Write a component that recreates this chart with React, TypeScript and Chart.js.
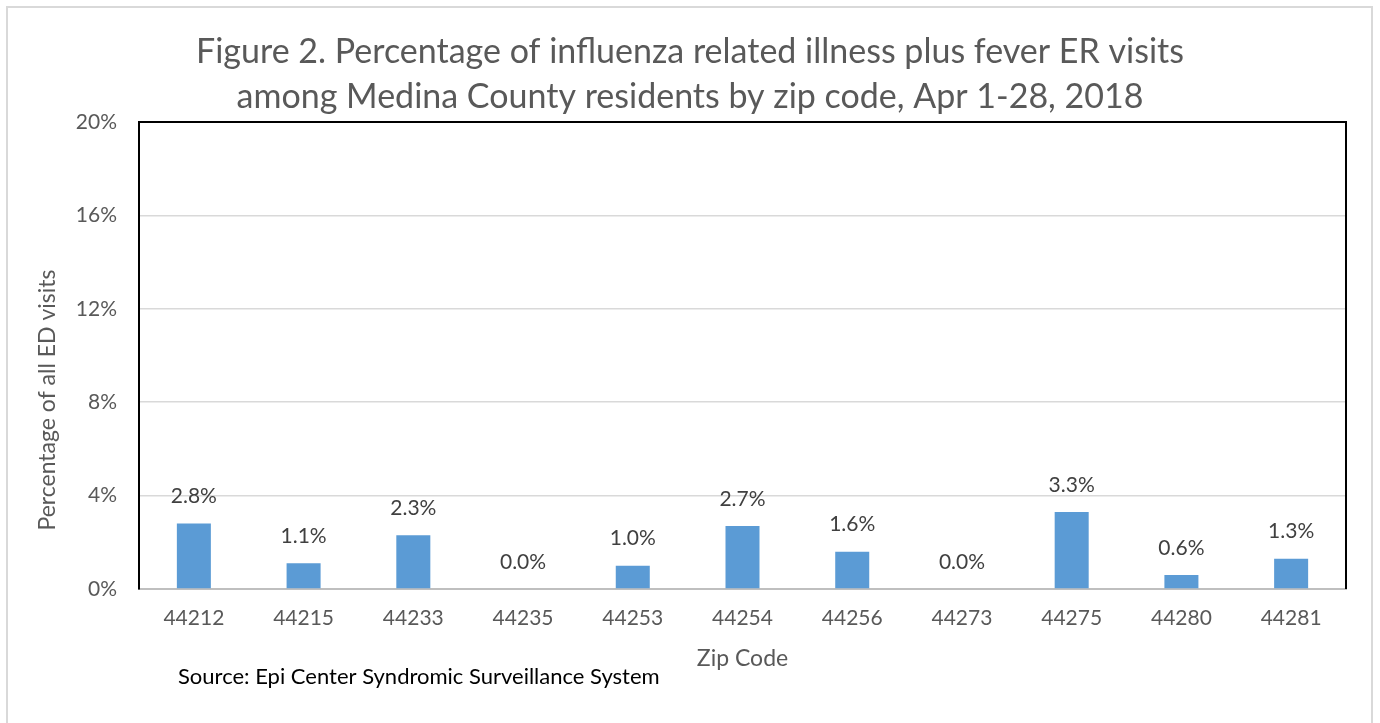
import React, { useEffect, useRef } from "react";
import { Chart, registerables } from "chart.js";

Chart.register(...registerables);

const zipCodes = ["44212", "44215", "44233", "44235", "44253", "44254", "44256", "44273", "44275", "44280", "44281"];
const percentValues = [2.8, 1.1, 2.3, 0.0, 1.0, 2.7, 1.6, 0.0, 3.3, 0.6, 1.3];
const titleLines = [
  "Figure 2. Percentage of influenza related illness plus fever ER visits",
  "among Medina County residents by zip code, Apr 1-28, 2018",
];
const yAxisTitle = "Percentage of all ED visits";
const xAxisTitle = "Zip Code";
const sourceText = "Source: Epi Center Syndromic Surveillance System";

const FONT = "Lato, 'Open Sans', sans-serif";

export default function App() {
  const canvasRef = useRef<HTMLCanvasElement | null>(null);

  useEffect(() => {
    document.body.style.margin = "0";
    const canvas = canvasRef.current;
    if (!canvas) return;

    const decorPlugin = {
      id: "decor",
      beforeDraw(chart: any) {
        const ctx = chart.ctx;
        ctx.save();
        ctx.fillStyle = "#ffffff";
        ctx.fillRect(0, 0, chart.width, chart.height);
        ctx.strokeStyle = "#d9d9d9";
        ctx.lineWidth = 2;
        ctx.strokeRect(7, 7, 1365, 740);
        ctx.restore();
      },
      afterDatasetsDraw(chart: any) {
        const ctx = chart.ctx;
        const area = chart.chartArea;
        ctx.save();
        // top and right black border
        ctx.strokeStyle = "#000000";
        ctx.lineWidth = 2;
        ctx.beginPath();
        ctx.moveTo(area.left, area.top);
        ctx.lineTo(area.right, area.top);
        ctx.lineTo(area.right, area.bottom);
        ctx.stroke();

        // data labels
        const meta = chart.getDatasetMeta(0);
        ctx.fillStyle = "#404040";
        ctx.font = `21px ${FONT}`;
        ctx.textAlign = "center";
        ctx.textBaseline = "middle";
        meta.data.forEach((bar: any, i: number) => {
          ctx.fillText(percentValues[i].toFixed(1) + "%", bar.x, bar.y - 27);
        });

        // title
        ctx.fillStyle = "#595959";
        ctx.font = `34px ${FONT}`;
        ctx.fillText(titleLines[0], 690, 52);
        ctx.fillText(titleLines[1], 690, 97);

        // x axis title
        ctx.font = `23px ${FONT}`;
        ctx.fillText(xAxisTitle, (area.left + area.right) / 2, 659);

        // y axis title
        ctx.save();
        ctx.translate(48, 400);
        ctx.rotate(-Math.PI / 2);
        ctx.fillText(yAxisTitle, 0, 0);
        ctx.restore();

        // source
        ctx.fillStyle = "#000000";
        ctx.font = `22px ${FONT}`;
        ctx.textAlign = "left";
        ctx.fillText(sourceText, 178, 677);
        ctx.restore();
      },
    };

    const chart = new Chart(canvas, {
      type: "bar",
      data: {
        labels: zipCodes,
        datasets: [
          {
            data: percentValues,
            backgroundColor: "#5b9bd5",
            barPercentage: 0.31,
            categoryPercentage: 1,
          },
        ],
      },
      options: {
        animation: false,
        responsive: false,
        maintainAspectRatio: false,
        layout: { padding: { top: 122, right: 34, bottom: 0, left: 0 } },
        plugins: {
          legend: { display: false },
          title: { display: false },
          tooltip: { enabled: false },
        },
        scales: {
          x: {
            grid: { display: false, drawTicks: false },
            border: { display: true, color: "#bfbfbf", width: 2 },
            ticks: {
              color: "#595959",
              font: { family: FONT, size: 21 },
              padding: 17,
              maxRotation: 0,
            },
            afterFit(scale: any) {
              scale.height = 134;
            },
          },
          y: {
            min: 0,
            max: 20,
            grid: { color: "#d9d9d9", lineWidth: 1.5, drawTicks: false },
            border: { display: true, color: "#000000", width: 2 },
            ticks: {
              stepSize: 4,
              color: "#595959",
              font: { family: FONT, size: 21 },
              padding: 22,
              callback: (v: any) => v + "%",
            },
            afterFit(scale: any) {
              scale.width = 139;
            },
          },
        },
      },
      plugins: [decorPlugin],
    });

    return () => chart.destroy();
  }, []);

  return (
    <div style={{ position: "relative", width: 1380, height: 723 }}>
      <canvas ref={canvasRef} width={1380} height={723} style={{ display: "block" }} />
    </div>
  );
}
